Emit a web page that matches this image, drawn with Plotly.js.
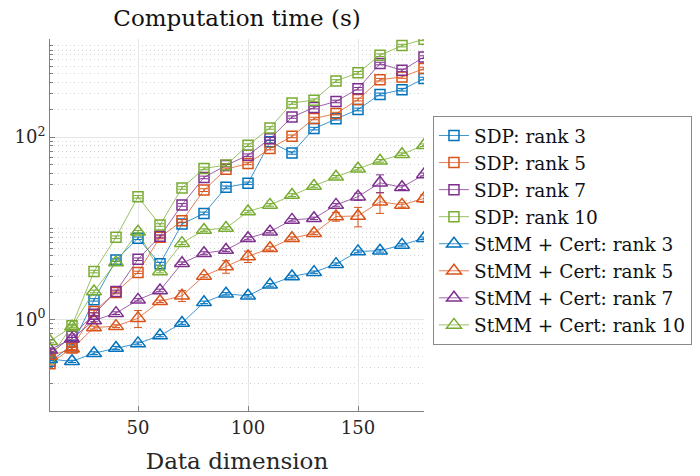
<!DOCTYPE html>
<html>
<head>
<meta charset="utf-8">
<script src="https://cdn.plot.ly/plotly-3.0.1.min.js"></script>
<style>html,body{margin:0;padding:0;background:#fff;}#plot{width:700px;height:476px;}</style>
</head>
<body>
<div id="plot"></div>
<script>
// ---- data ----
const dims = [10,20,30,40,50,60,70,80,90,100,110,120,130,140,150,160,170,180];

const sdpR3  = [0.35,0.52,1.65,4.5,7.8,4.1,11.2,14.6,28.2,31.2,89,67,124,159,201,294,331,438];
const sdpR5  = [0.33,0.49,1.23,1.99,3.3,8.0,12.1,26.3,44.4,51.5,75,102,160,181,258,426,456,564];
const sdpR7  = [0.42,0.66,1.15,2.04,4.6,8.2,18.1,36.2,49,63.5,96,166,211,246,339,640,539,753];
const sdpR10 = [0.38,0.86,3.37,8.0,22.2,10.9,27.8,45.4,49.4,81.7,126,237,254,412,506,790,1007,1180];

const stR3  = [0.37,0.35,0.43,0.49,0.55,0.67,0.92,1.55,1.92,1.83,2.41,2.97,3.32,4.06,5.6,5.7,6.6,7.8];
const stR5  = [0.40,0.48,0.82,0.85,1.04,1.59,1.83,3.02,3.83,4.93,6.07,7.8,8.85,13.5,13.7,19.6,18.1,21.3];
const stR7  = [0.47,0.62,0.98,1.18,1.65,2.09,4.16,5.35,5.8,7.8,9.2,12.4,12.9,18.1,22.3,31.6,28.2,39];
const stR10 = [0.58,0.84,2.04,4.23,9.2,3.37,6.9,9.6,10.1,15.3,18.1,23.2,29.2,36.8,45,55,65,81.5];

const sdpR3Err  = [0.01,0.02,0.05,0.15,0.25,0.15,0.4,0.5,1,1,3,2,4,5,7,10,11,15];
const sdpR5Err  = [0.01,0.02,0.04,0.07,0.1,0.3,0.4,0.9,1.5,1.7,2.5,3.5,5,6,9,14,15,19];
const sdpR7Err  = [0.01,0.02,0.04,0.07,0.15,0.3,0.6,1.2,1.6,2,3,5,7,8,11,21,18,25];
const sdpR10Err = [0.01,0.03,0.11,0.27,0.7,0.35,0.9,1.5,1.6,2.7,4,8,8,14,17,26,33,40];
const stR3Err   = [0.01,0.01,0.015,0.02,0.02,0.02,0.03,0.05,0.06,0.06,0.08,0.1,0.1,0.13,0.2,0.2,0.2,0.25];
const stR5Err   = [0.01,0.02,0.03,0.03,0.22,0.05,0.25,0.1,0.6,0.7,0.3,0.3,0.3,1.5,3.3,5,1,2];
const stR7Err   = [0.02,0.02,0.03,0.04,0.05,0.07,0.14,0.2,0.2,0.3,0.3,0.4,0.4,0.6,2,7,1.5,1.5];
const stR10Err  = [0.02,0.03,0.07,0.14,0.3,0.11,0.23,0.3,0.3,0.5,0.6,0.8,1,1.2,1.5,1.8,2.2,2.7];

const seriesNames = ['SDP: rank 3','SDP: rank 5','SDP: rank 7','SDP: rank 10',
  'StMM + Cert: rank 3','StMM + Cert: rank 5','StMM + Cert: rank 7','StMM + Cert: rank 10'];

const yTickVals = [1, 100];
const yTickText = ['10<sup>0</sup>', '10<sup>2</sup>'];
const yMinorVals = [0.2,0.3,0.4,0.5,0.6,0.7,0.8,0.9,2,3,4,5,6,7,8,9,10,20,30,40,50,60,70,80,90,200,300,400,500,600,700,800,900,1000];
const xTickVals = [50, 100, 150];

// ---- styling ----
const FONT = 'DejaVu Serif, serif';
const colors = ['#0072BD','#D95319','#7E2F8E','#77AC30'];
const lineColors = ['rgba(0,114,189,0.75)','rgba(217,83,25,0.75)','rgba(126,47,142,0.75)','rgba(119,172,48,0.75)'];

const ys = [sdpR3, sdpR5, sdpR7, sdpR10, stR3, stR5, stR7, stR10];
const errs = [sdpR3Err, sdpR5Err, sdpR7Err, sdpR10Err, stR3Err, stR5Err, stR7Err, stR10Err];

const traces = ys.map((y, i) => {
  const c = i % 4;
  const isSdp = i < 4;
  return {
    x: dims, y: y, name: seriesNames[i], type: 'scatter', mode: 'lines+markers',
    line: {color: lineColors[c], width: 1},
    marker: {
      symbol: isSdp ? 'square-open' : 'triangle-up-open',
      size: isSdp ? 10 : 13,
      color: colors[c],
      line: {width: 1.5, color: colors[c]}
    },
    error_y: {type: 'data', array: errs[i], visible: true, color: colors[c], thickness: 1, width: 4}
  };
});

const layout = {
  width: 700, height: 476,
  margin: {l: 50, r: 276, t: 39, b: 65, autoexpand: false},
  paper_bgcolor: '#fff', plot_bgcolor: '#fff',
  font: {family: FONT, color: '#262626'},
  showlegend: true,
  title: {text: 'Computation time (s)', font: {family: FONT, size: 23, color: '#111'},
          x: 0.5, xref: 'paper', xanchor: 'center', y: 0.962, yref: 'container', yanchor: 'middle'},
  xaxis: {
    range: [10, 180], tickmode: 'array', tickvals: xTickVals,
    showgrid: true, gridcolor: '#e6e6e6', gridwidth: 1,
    ticks: 'inside', ticklen: 5, tickcolor: '#808080',
    showline: true, linecolor: '#808080', linewidth: 1, zeroline: false, mirror: false,
    tickfont: {family: FONT, size: 18, color: '#262626'},
    title: {text: 'Data dimension', font: {family: FONT, size: 23, color: '#262626'}, standoff: 16}
  },
  yaxis: {
    type: 'log', range: [-1, 3.075], tickmode: 'array', tickvals: yTickVals, ticktext: yTickText,
    showgrid: true, gridcolor: '#e6e6e6', gridwidth: 1,
    ticks: 'inside', ticklen: 5, tickcolor: '#808080',
    showline: true, linecolor: '#808080', linewidth: 1, zeroline: false,
    tickfont: {family: FONT, size: 18, color: '#262626'},
    minor: {tickmode: 'array', tickvals: yMinorVals, showgrid: true, gridcolor: '#d4d4d4', griddash: '1px,3px',
            gridwidth: 1, ticks: 'inside', ticklen: 3, tickcolor: '#808080'}
  },
  legend: {
    x: 1.024, xanchor: 'left', y: 0.793, yanchor: 'top',
    bgcolor: '#fff', bordercolor: '#8a8a8a', borderwidth: 1,
    font: {family: FONT, size: 18.5, color: '#111'},
    tracegroupgap: 0, itemsizing: 'trace'
  }
};

Plotly.newPlot('plot', traces, layout, {staticPlot: true, displayModeBar: false});
</script>
</body>
</html>
